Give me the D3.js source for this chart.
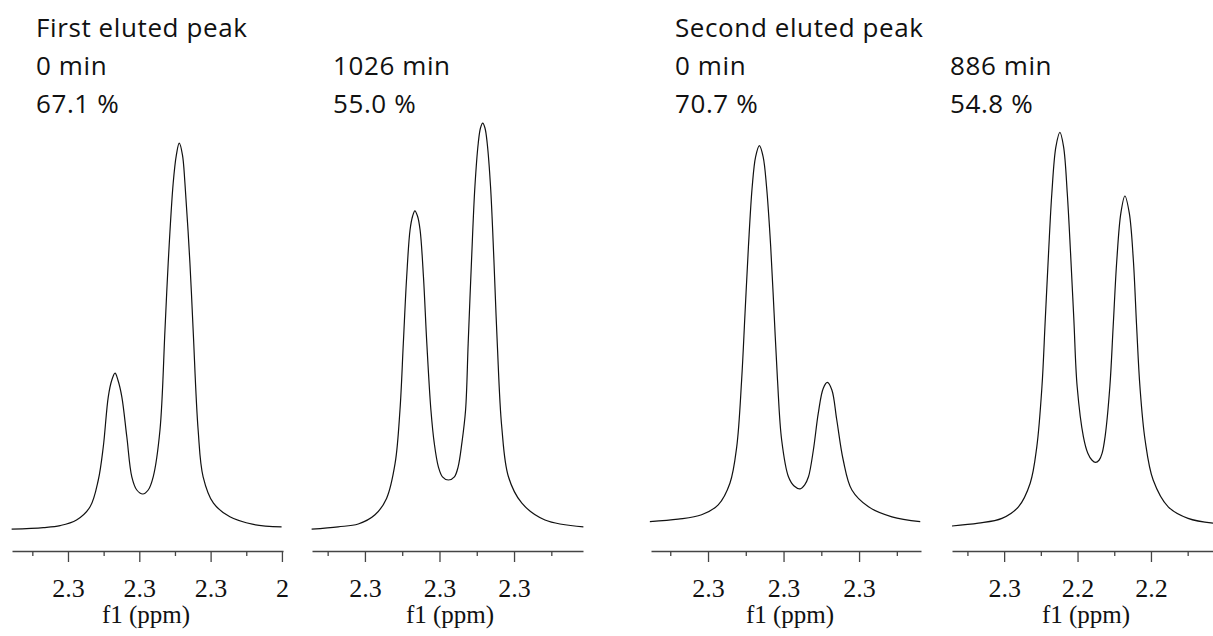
<!DOCTYPE html>
<html>
<head>
<meta charset="utf-8">
<script src="https://cdn.jsdelivr.net/npm/d3@7"></script>
<style>
  body { margin: 0; background: #fff; }
  svg { display: block; }
</style>
</head>
<body>
<script>
var canvasWidth = 1213;
var canvasHeight = 636;

// header texts, one per spectrum
var titles = ["First eluted peak", "", "Second eluted peak", ""];
var times = ["0 min", "1026 min", "0 min", "886 min"];
var purities = ["67.1 %", "55.0 %", "70.7 %", "54.8 %"];

// chemical shift (ppm) and relative intensity
var shift1 = [2.3258, 2.3169, 2.3122, 2.3076, 2.3038, 2.3015, 2.3001, 2.2987, 2.2977, 2.2968, 2.2960,
  2.2949, 2.2935, 2.2921, 2.2907, 2.2890, 2.2875, 2.2861, 2.2842, 2.2828, 2.2819, 2.2805, 2.2796,
  2.2788, 2.2779, 2.2772, 2.2758, 2.2749, 2.2735, 2.2721, 2.2692, 2.2646, 2.2580, 2.2501];
var intensity1 = [0.007, 0.011, 0.016, 0.030, 0.063, 0.130, 0.213, 0.338, 0.380, 0.397, 0.380,
  0.338, 0.238, 0.138, 0.105, 0.095, 0.105, 0.138, 0.255, 0.505, 0.672, 0.872, 0.943,
  0.972, 0.943, 0.872, 0.672, 0.505, 0.255, 0.138, 0.072, 0.038, 0.019, 0.013];

var shift2 = [2.3243, 2.3172, 2.3118, 2.3073, 2.3042, 2.3019, 2.3006, 2.2997, 2.2988, 2.2979, 2.2972,
  2.2966, 2.2959, 2.2952, 2.2943, 2.2934, 2.2923, 2.2914, 2.2903, 2.2892, 2.2876, 2.2860, 2.2850,
  2.2840, 2.2830, 2.2823, 2.2814, 2.2805, 2.2796, 2.2790, 2.2784, 2.2778, 2.2772, 2.2763, 2.2754,
  2.2745, 2.2733, 2.2715, 2.2679, 2.2617, 2.2514];
var intensity2 = [0.007, 0.013, 0.020, 0.043, 0.084, 0.172, 0.305, 0.472, 0.638, 0.755, 0.790,
  0.803, 0.790, 0.755, 0.638, 0.472, 0.305, 0.222, 0.163, 0.138, 0.130, 0.138, 0.163,
  0.222, 0.305, 0.472, 0.680, 0.863, 0.972, 1.010, 1.022, 1.010, 0.972, 0.863, 0.680,
  0.472, 0.263, 0.138, 0.072, 0.030, 0.013];

var shift3 = [2.3254, 2.3179, 2.3117, 2.3073, 2.3042, 2.3024, 2.3011, 2.3002, 2.2993, 2.2983, 2.2974,
  2.2964, 2.2954, 2.2945, 2.2934, 2.2925, 2.2916, 2.2905, 2.2887, 2.2872, 2.2856, 2.2844, 2.2834,
  2.2821, 2.2808, 2.2795, 2.2784, 2.2772, 2.2759, 2.2742, 2.2719, 2.2675, 2.2613, 2.2538];
var intensity3 = [0.026, 0.032, 0.043, 0.068, 0.122, 0.213, 0.380, 0.547, 0.713, 0.863, 0.938,
  0.966, 0.938, 0.863, 0.713, 0.547, 0.380, 0.230, 0.138, 0.115, 0.108, 0.118, 0.138,
  0.205, 0.297, 0.359, 0.374, 0.355, 0.280, 0.180, 0.105, 0.063, 0.038, 0.026];

var shift4 = [2.2842, 2.2770, 2.2706, 2.2661, 2.2629, 2.2611, 2.2597, 2.2588, 2.2579, 2.2570, 2.2559,
  2.2548, 2.2538, 2.2528, 2.2519, 2.2510, 2.2501, 2.2484, 2.2472, 2.2461, 2.2451, 2.2441, 2.2433,
  2.2425, 2.2412, 2.2403, 2.2393, 2.2382, 2.2371, 2.2359, 2.2348, 2.2339, 2.2330, 2.2316, 2.2294,
  2.2253, 2.2199, 2.2131];
var intensity4 = [0.015, 0.022, 0.034, 0.063, 0.122, 0.213, 0.363, 0.530, 0.697, 0.847, 0.963,
  0.999, 0.963, 0.847, 0.697, 0.530, 0.363, 0.238, 0.197, 0.180, 0.174, 0.180, 0.197,
  0.238, 0.363, 0.513, 0.680, 0.797, 0.840, 0.797, 0.680, 0.513, 0.363, 0.230, 0.130,
  0.063, 0.034, 0.022];

// axis ticks (ppm) and their printed labels
var majorTicks1 = [2.31, 2.29, 2.27, 2.25];
var tickLabels1 = ["2.3", "2.3", "2.3", "2"];
var majorTicks2 = [2.31, 2.29, 2.27];
var tickLabels2 = ["2.3", "2.3", "2.3"];
var majorTicks3 = [2.31, 2.29, 2.27];
var tickLabels3 = ["2.3", "2.3", "2.3"];
var majorTicks4 = [2.27, 2.25, 2.23];
var tickLabels4 = ["2.3", "2.2", "2.2"];
var minorTicks1 = [2.32, 2.30, 2.28, 2.26];
var minorTicks2 = [2.32, 2.30, 2.28, 2.26];
var minorTicks3 = [2.32, 2.30, 2.28, 2.26];
var minorTicks4 = [2.28, 2.26, 2.24, 2.22];

// ppm window shown in each panel (left edge, right edge)
var domains = [[2.3257, 2.2497], [2.3242, 2.2515], [2.3251, 2.2536], [2.2842, 2.2131]];

var panels = [
  { shift: shift1, inten: intensity1, major: majorTicks1, labels: tickLabels1, minor: minorTicks1,
    range: [12, 283], textX: 36, titleX: 146 },
  { shift: shift2, inten: intensity2, major: majorTicks2, labels: tickLabels2, minor: minorTicks2,
    range: [312, 583], textX: 333, titleX: 450 },
  { shift: shift3, inten: intensity3, major: majorTicks3, labels: tickLabels3, minor: minorTicks3,
    range: [651, 921], textX: 675, titleX: 790 },
  { shift: shift4, inten: intensity4, major: majorTicks4, labels: tickLabels4, minor: minorTicks4,
    range: [952, 1213], textX: 950, titleX: 1086 }
];

var axisY = 551;
var serif = "'Liberation Serif', 'Times New Roman', serif";

var svg = d3.select("body").append("svg")
    .attr("width", canvasWidth)
    .attr("height", canvasHeight);

var yScale = d3.scaleLinear().domain([0, 1]).range([532, 132]);

panels.forEach(function(p, i) {
    var xScale = d3.scaleLinear().domain(domains[i]).range(p.range);
    var pts = p.shift.map(function(s, j) { return [s, p.inten[j]]; });

    var line = d3.line()
        .x(d => xScale(d[0]))
        .y(d => yScale(d[1]))
        .curve(d3.curveCatmullRom.alpha(0.5));

    svg.append("path")
        .datum(pts)
        .attr("d", line)
        .attr("fill", "none")
        .attr("stroke", "#111")
        .attr("stroke-width", 1.2);

    // minor ticks first, then the labelled major ticks on top
    var minorAxis = svg.append("g")
        .attr("transform", "translate(0," + axisY + ")")
        .call(d3.axisBottom(xScale).tickValues(p.minor).tickSize(5).tickSizeOuter(0).tickFormat(""));
    minorAxis.select(".domain").attr("stroke", "#444").attr("stroke-width", 1.3);
    minorAxis.selectAll(".tick line").attr("stroke", "#444").attr("stroke-width", 1.3);

    var majorAxis = svg.append("g")
        .attr("transform", "translate(0," + axisY + ")")
        .call(d3.axisBottom(xScale).tickValues(p.major).tickSize(11).tickSizeOuter(0)
            .tickFormat((d, k) => p.labels[k]));
    majorAxis.select(".domain").remove();
    majorAxis.selectAll(".tick line").attr("stroke", "#444").attr("stroke-width", 1.3);
    majorAxis.selectAll(".tick text")
        .attr("y", 46)
        .attr("dy", 0)
        .attr("fill", "#111")
        .style("font-family", serif)
        .style("font-size", "26px");

    svg.append("text")
        .attr("x", p.titleX)
        .attr("y", 623)
        .attr("text-anchor", "middle")
        .attr("fill", "#111")
        .style("font-family", serif)
        .style("font-size", "25px")
        .text("f1 (ppm)");

    // headers
    var lines = [titles[i], times[i], purities[i]];
    lines.forEach(function(t, k) {
        if (!t) return;
        svg.append("text")
            .attr("x", p.textX)
            .attr("y", 37 + 38 * k)
            .attr("fill", "#111")
            .style("font-family", "'Open Sans', Lato, sans-serif")
            .style("font-size", "26px")
            .style("letter-spacing", "0.6px")
            .text(t);
    });
});
</script>
</body>
</html>
